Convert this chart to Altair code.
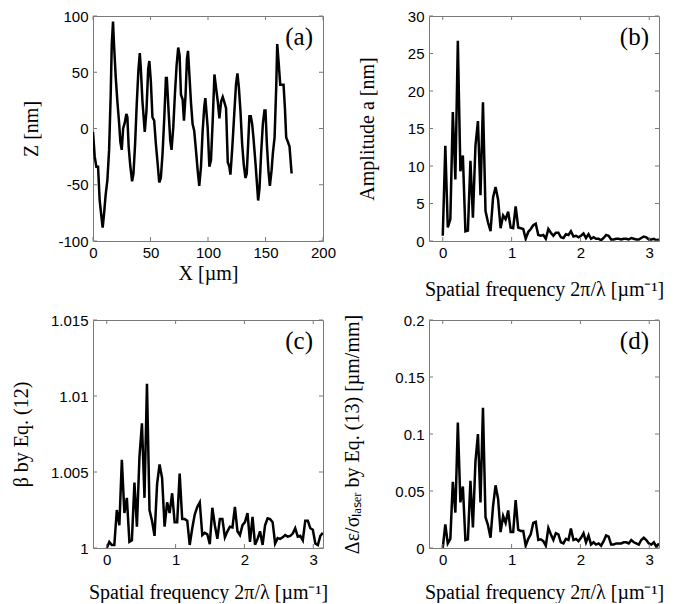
import altair as alt
import pandas as pd

# ---------------- data ----------------
# (a) surface profile
x_um = [0, 1.5, 2.9, 4.4, 5.8, 7.3, 8.4, 9.6, 11, 12.5, 14, 15.4, 16.3, 17.4, 18.3, 19.8, 21.2, 22.7, 23.8, 25,
        26.2, 27.6, 29, 29.9, 31, 32.3, 34, 35.2, 36.6, 38, 39.5, 40.7, 41.6, 43, 44.2, 45, 46.5, 48, 49, 50.3,
        51.7, 53.2, 54.7, 56.1, 57.6, 59, 60.5, 62, 63.4, 64.2, 65.7, 67.2, 68.3, 69.8, 71.2, 72.7, 74.1, 75.3, 76.5, 77.9,
        79.1, 80.5, 81.7, 82.6, 83.7, 85.2, 86.6, 88, 89.5, 91, 92.4, 93.9, 95.3, 96.8, 97.7,
        99.7, 101.2, 102.6, 104.1, 105.6, 107, 108.5, 109.9, 111.4, 112.8, 114.3, 115.7, 117.2, 118.6, 119.5, 121, 123, 124.4, 125.6, 126.8,
        128.2, 129.7, 131.1, 132.6, 133.7, 134.9, 136, 137.2, 138.4, 139.5, 141.3, 142.5, 143.6, 144.8, 146.2, 147.7, 149.1, 150, 151.2, 152.6,
        153.8, 155.3, 156.4, 157.9, 159.3, 160.2, 161.4, 162.8, 164.6, 165.7, 166.9, 168, 169.5, 170.9, 171.8, 172.7]
z_nm = [-3, -25, -34, -34, -64, -78, -88, -76, -59, -46, -19, 30, 74, 95, 74, 45, 24, 5, -12, -19,
        0, 5, 13, 10, -16, -32, -47, -40, -14, 21, 52, 67, 53, 24, 8, -3, 16, 53, 60, 42,
        10, 7, -14, -30, -48, -44, -22, 10, 45, 45, 16, -11, -19, 1, 30, 56, 72, 65, 30, 26,
        7, 30, 62, 69, 50, 23, 4, -2, -19, -37, -51, -34, -3, 20, 27,
        1, -34, -28, 7, 48, 36, 24, 9, 24, 28, 23, 18, -30, -34, -41, -19, 16, 40, 49, 37,
        16, -14, -32, -44, -40, -14, 11, 11, 4, -8, -31, -48, -64, -53, -22, 4, 16, 16, -14, -38,
        -51, -37, -22, -8, 36, 75, 59, 39, 39, 39, 18, -8, -12, -16, -28, -40]

# spatial frequency grid (um^-1)
freq = [0.000, 0.037, 0.073, 0.110, 0.146, 0.183, 0.219, 0.256, 0.292, 0.329,
        0.365, 0.402, 0.438, 0.475, 0.511, 0.548, 0.584, 0.621, 0.657, 0.694,
        0.731, 0.767, 0.804, 0.840, 0.877, 0.913, 0.950, 0.986, 1.023, 1.059,
        1.096, 1.132, 1.169, 1.205, 1.242, 1.278, 1.315, 1.351, 1.388, 1.424,
        1.461, 1.497, 1.534, 1.570, 1.607, 1.643, 1.680, 1.716, 1.753, 1.789,
        1.826, 1.862, 1.899, 1.935, 1.972, 2.008, 2.045, 2.081, 2.118, 2.154,
        2.191, 2.227, 2.264, 2.300, 2.337, 2.373, 2.410, 2.446, 2.483, 2.519,
        2.556, 2.592, 2.629, 2.665, 2.702, 2.738, 2.775, 2.811, 2.848, 2.884,
        2.921, 2.957, 2.994, 3.030, 3.067, 3.103, 3.140]

# (b) amplitude a [nm]
amp = [0.7, 12.7, 1.8, 2.9, 17.2, 8.2, 26.7, 9.3, 11.4, 1.3,
       1.4, 10.7, 3.1, 12.7, 16.0, 6.1, 18.5, 4.0, 2.5, 1.3,
       5.8, 7.2, 5.5, 1.7, 3.4, 2.9, 3.9, 1.8, 1.7, 4.6,
       1.8, 1.7, 1.6, 0.3, 1.2, 1.6, 2.1, 2.3, 0.8, 0.7,
       0.8, 0.3, 1.6, 1.1, 0.7, 1.1, 1.1, 0.5, 0.4, 0.9,
       0.8, 1.3, 0.6, 0.7, 0.5, 0.7, 1.0, 0.4, 0.9, 0.3,
       0.5, 0.3, 0.3, 0.1, 0.4, 0.8, 0.7, 0.2, 0.2, 0.3,
       0.3, 0.2, 0.3, 0.3, 0.2, 0.4, 0.3, 0.2, 0.2, 0.4,
       0.6, 0.5, 0.2, 0.2, 0.3, 0.1, 0.2]

# (c) beta by Eq. (12)
beta = [1.0000, 1.0004, 1.0002, 1.0002, 1.0025, 1.0015, 1.0058, 1.0023, 1.0033, 1.0004,
        1.0005, 1.0043, 1.0014, 1.0060, 1.0082, 1.0033, 1.0108, 1.0025, 1.0018, 1.0008,
        1.0042, 1.0055, 1.0046, 1.0014, 1.0030, 1.0023, 1.0036, 1.0017, 1.0017, 1.0049,
        1.0019, 1.0019, 1.0018, 1.0002, 1.0013, 1.0022, 1.0027, 1.0030, 1.00085, 1.0010,
        1.0009, 1.00025, 1.00265, 1.0015, 1.0006, 1.0019, 1.0019, 1.0007, 1.0011, 1.0014,
        1.00135, 1.0027, 1.0011, 1.00085, 1.0015, 1.0017, 1.0023, 1.0004, 1.00205, 1.00022,
        1.0006, 1.0011, 1.0002, 1.0015, 1.00195, 1.0019, 1.0017, 1.0003, 1.00065, 1.0006,
        1.0007, 1.00085, 1.00075, 1.0008, 1.00095, 1.0013, 1.00075, 1.0008, 1.0005, 1.0018,
        1.0018, 1.0013, 1.0012, 1.0003, 1.0002, 1.0008, 1.0010]

# (d) delta-epsilon / sigma_laser by Eq. (13) [um/mm]
deps = [0.000, 0.0207, 0.004, 0.008, 0.058, 0.031, 0.110, 0.040, 0.054, 0.007,
        0.0076, 0.059, 0.018, 0.076, 0.100, 0.040, 0.123, 0.027, 0.020, 0.009,
        0.037, 0.055, 0.043, 0.014, 0.028, 0.022, 0.033, 0.014, 0.014, 0.042,
        0.016, 0.015, 0.015, 0.002, 0.008, 0.012, 0.022, 0.023, 0.007, 0.0076,
        0.006, 0.002, 0.0175, 0.012, 0.007, 0.013, 0.012, 0.005, 0.004, 0.008,
        0.007, 0.017, 0.007, 0.008, 0.006, 0.009, 0.013, 0.005, 0.011, 0.003,
        0.005, 0.003, 0.004, 0.002, 0.006, 0.011, 0.010, 0.003, 0.003, 0.004,
        0.004, 0.004, 0.005, 0.005, 0.004, 0.007, 0.005, 0.004, 0.003, 0.007,
        0.009, 0.007, 0.004, 0.003, 0.005, 0.001, 0.004]

xticks_a = [0, 50, 100, 150, 200]
yticks_a = [-100, -50, 0, 50, 100]
xticks_f = [0, 1, 2, 3]
yticks_b = [0, 5, 10, 15, 20, 25, 30]
yticks_c = [1, 1.005, 1.01, 1.015]
yticks_d = [0, 0.05, 0.1, 0.15, 0.2]

FREQ_TITLE = "Spatial frequency 2\u03c0/\u03bb [\u00b5m\u207b\u00b9]"

W = 230
TICK = 4
FRAME = "#7a7a7a"


def panel(xs, ys, xdom, ydom, xticks, yticks, xtitle, ytitle, tag,
          ytp, xtp, H):
    df = pd.DataFrame({"x": xs, "y": ys})
    xs_ = alt.Scale(domain=xdom, nice=False, zero=False)
    ys_ = alt.Scale(domain=ydom, nice=False, zero=False)
    xax = alt.Axis(values=xticks, labelExpr="'' + datum.value",
                   labelPadding=4, titlePadding=xtp,
                   labelFlush=False, labelOverlap=False)
    yax = alt.Axis(values=yticks, labelExpr="'' + datum.value",
                   labelPadding=5, titlePadding=ytp, labelOverlap=False)
    line = alt.Chart(df).mark_line(color="black", strokeWidth=2.5, clip=True).encode(
        x=alt.X("x:Q", scale=xs_, title=xtitle, axis=xax),
        y=alt.Y("y:Q", scale=ys_, title=ytitle, axis=yax),
    )
    ydf = pd.DataFrame({"y": yticks})
    xdf = pd.DataFrame({"x": xticks})
    yl = alt.Chart(ydf).mark_rule(color=FRAME, strokeWidth=1).encode(
        y=alt.Y("y:Q", scale=ys_, title=ytitle, axis=yax),
        x=alt.value(0), x2=alt.value(TICK))
    yr = alt.Chart(ydf).mark_rule(color=FRAME, strokeWidth=1).encode(
        y=alt.Y("y:Q", scale=ys_, title=ytitle, axis=yax),
        x=alt.value(W - TICK), x2=alt.value(W))
    xb = alt.Chart(xdf).mark_rule(color=FRAME, strokeWidth=1).encode(
        x=alt.X("x:Q", scale=xs_, title=xtitle, axis=xax),
        y=alt.value(H), y2=alt.value(H - TICK))
    xt = alt.Chart(xdf).mark_rule(color=FRAME, strokeWidth=1).encode(
        x=alt.X("x:Q", scale=xs_, title=xtitle, axis=xax),
        y=alt.value(0), y2=alt.value(TICK))
    lab = alt.Chart(pd.DataFrame({"s": [tag]})).mark_text(
        font="Liberation Serif", fontSize=25, align="right", baseline="middle",
        color="black").encode(text="s:N", x=alt.value(W - 10), y=alt.value(21))
    return alt.layer(line, yl, yr, xb, xt, lab).properties(width=W, height=H)


pa = panel(x_um, z_nm, [0, 200], [-100, 100], xticks_a, yticks_a,
           "X [\u00b5m]", "Z [nm]", "(a)", 16, 3, 225)
pb = panel(freq, amp, [-0.2, 3.1416], [0, 30], xticks_f, yticks_b,
           FREQ_TITLE, "Amplitude  a [nm]", "(b)", 30, 19, 225)
pc = panel(freq, beta, [-0.2, 3.1416], [1, 1.015], xticks_f, yticks_c,
           FREQ_TITLE, "\u03b2 by Eq. (12)", "(c)", 19, 15, 228)
pd_ = panel(freq, deps, [-0.2, 3.1416], [0, 0.2], xticks_f, yticks_d,
            FREQ_TITLE, "\u0394\u03b5/\u03c3\u2097\u2090\u209b\u2091\u1d63 by Eq. (13) [\u00b5m/mm]", "(d)", 32, 15, 228)

chart = alt.concat(pa, pb, pc, pd_, columns=2,
                   spacing={"row": 79, "column": 106}, bounds="flush").properties(
    padding={"left": 2, "top": 0, "right": 5, "bottom": 0},
    background="white",
).configure_view(stroke=FRAME, strokeWidth=1).configure_axis(
    labelFont="Liberation Sans", labelFontSize=15, labelColor="black",
    titleFont="Liberation Serif", titleFontSize=20, titleFontWeight="normal",
    titleColor="black", tickSize=0, domain=False, grid=False,
)

chart.save("out.html", embed_options={"renderer": "svg", "actions": False})
